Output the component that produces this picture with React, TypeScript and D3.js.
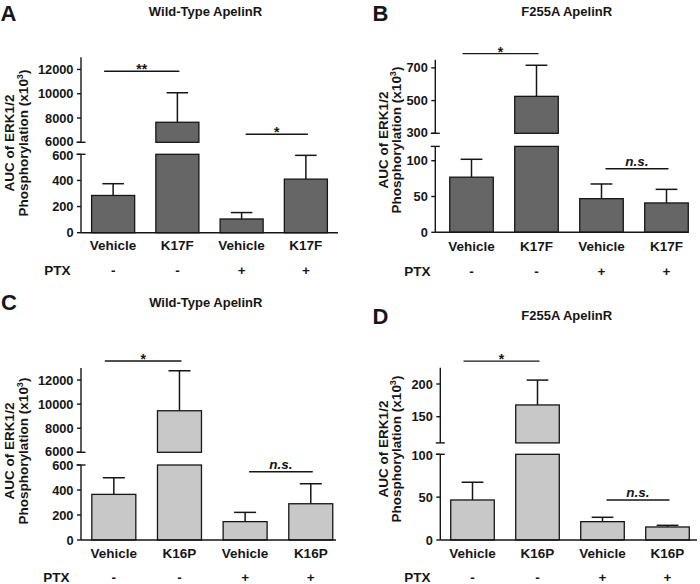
import React from 'react';
import * as d3 from 'd3';

// categories
const k17fGroups = ['Vehicle', 'K17F', 'Vehicle', 'K17F'];
const k16pGroups = ['Vehicle', 'K16P', 'Vehicle', 'K16P'];
const ptxRow = ['-', '-', '+', '+'];

// AUC means and SEM (x10^3)
const wtK17fMean = [285, 7650, 105, 410];
const wtK17fSem = [90, 2430, 49, 182];
const mutK17fMean = [77, 526, 47, 41];
const mutK17fSem = [25, 190, 20.5, 19];
const wtK16pMean = [365, 9450, 147, 290];
const wtK16pSem = [133, 3320, 74, 160];
const mutK16pMean = [46.7, 168, 21.4, 15.2];
const mutK16pSem = [20.7, 38, 5.1, 1.9];

// broken axis domains and ticks
const wtLower = [0, 600];
const wtUpper = [6000, 13000];
const wtLowerTicks = [0, 200, 400, 600];
const wtUpperTicks = [6000, 8000, 10000, 12000];
const mutK17fLower = [0, 120];
const mutK17fUpper = [300, 750];
const mutK17fLowerTicks = [0, 50, 100];
const mutK17fUpperTicks = [300, 500, 700];
const mutK16pLower = [0, 100];
const mutK16pUpper = [110, 225];
const mutK16pLowerTicks = [0, 50, 100];
const mutK16pUpperTicks = [150, 200];

interface Sig {
  a: number;
  b: number;
  level: number;
  label: string;
}

// significance brackets (level in data units)
const wtK17fSig: Sig[] = [
  { a: 0, b: 1, level: 11850, label: '**' },
  { a: 2, b: 3, level: 6660, label: '*' },
];
const mutK17fSig: Sig[] = [
  { a: 0, b: 1, level: 787, label: '*' },
  { a: 2, b: 3, level: 88.8, label: 'n.s.' },
];
const wtK16pSig: Sig[] = [
  { a: 0, b: 1, level: 13577, label: '*' },
  { a: 2, b: 3, level: 546, label: 'n.s.' },
];
const mutK16pSig: Sig[] = [
  { a: 0, b: 1, level: 235, label: '*' },
  { a: 2, b: 3, level: 46.7, label: 'n.s.' },
];

const FONT = '"Liberation Sans", Arial, Helvetica, sans-serif';
const INK = '#161616';

interface PanelProps {
  letter: string;
  title: string;
  groups: string[];
  means: number[];
  sems: number[];
  lower: number[];
  upper: number[];
  lowerTicks: number[];
  upperTicks: number[];
  sig: Sig[];
  fill: string;
  layout: {
    letterX: number;
    letterY: number;
    titleX: number;
    titleY: number;
    axisX: number;
    xEnd: number;
    band: [number, number];
    base: number;
    lowerTop: number;
    upperBottom: number;
    upperTop: number;
    yLabelX: [number, number];
    yLabelY: number;
    catY: number;
    ptxY: number;
    ptxX: number;
  };
}

const Panel = ({ letter, title, groups, means, sems, lower, upper, lowerTicks, upperTicks, sig, fill, layout: L }: PanelProps) => {
  const x = d3
    .scaleBand<number>()
    .domain(groups.map((_, i) => i))
    .range(L.band)
    .paddingInner(0.33)
    .paddingOuter(0.165);
  const yLo = d3.scaleLinear().domain(lower).range([L.base, L.lowerTop]);
  const yHi = d3.scaleLinear().domain(upper).range([L.upperBottom, L.upperTop]);
  const yOf = (v: number) => (v <= lower[1] ? yLo(v) : yHi(v));
  const bw = x.bandwidth();
  const cx = (i: number) => x(i)! + bw / 2;

  return (
    <g fontFamily={FONT} fontWeight="bold" fill={INK}>
      <text x={L.letterX} y={L.letterY} fontSize={22}>
        {letter}
      </text>
      <text x={L.titleX} y={L.titleY} fontSize={13} textAnchor="middle">
        {title}
      </text>

      {/* bars */}
      {means.map((m, i) => {
        const top = m + sems[i];
        const broken = m > lower[1];
        return (
          <g key={i}>
            <line x1={cx(i)} x2={cx(i)} y1={yOf(m)} y2={yOf(top)} stroke={INK} strokeWidth={1.5} />
            <line x1={cx(i) - bw / 4} x2={cx(i) + bw / 4} y1={yOf(top)} y2={yOf(top)} stroke={INK} strokeWidth={1.5} />
            {broken ? (
              <>
                <rect x={x(i)} y={yLo(lower[1])} width={bw} height={L.base - yLo(lower[1])} fill={fill} stroke={INK} strokeWidth={1.3} />
                <rect x={x(i)} y={yHi(m)} width={bw} height={L.upperBottom - yHi(m)} fill={fill} stroke={INK} strokeWidth={1.3} />
              </>
            ) : (
              <rect x={x(i)} y={yLo(m)} width={bw} height={L.base - yLo(m)} fill={fill} stroke={INK} strokeWidth={1.3} />
            )}
          </g>
        );
      })}

      {/* y axis, two segments */}
      <g stroke={INK} strokeWidth={1.4}>
        <line x1={L.axisX} x2={L.axisX} y1={L.base} y2={L.lowerTop} />
        <line x1={L.axisX - 4.5} x2={L.axisX + 4.5} y1={L.lowerTop} y2={L.lowerTop} />
        <line x1={L.axisX} x2={L.axisX} y1={L.upperBottom} y2={L.upperTop} />
        <line x1={L.axisX - 4.5} x2={L.axisX + 4.5} y1={L.upperBottom} y2={L.upperBottom} />
        <line x1={L.axisX} x2={L.xEnd} y1={L.base} y2={L.base} />
        {lowerTicks.map((t) => (
          <line key={'lt' + t} x1={L.axisX - 4} x2={L.axisX} y1={yLo(t)} y2={yLo(t)} />
        ))}
        {upperTicks.map((t) => (
          <line key={'ut' + t} x1={L.axisX - 4} x2={L.axisX} y1={yHi(t)} y2={yHi(t)} />
        ))}
      </g>
      {lowerTicks.map((t) => (
        <text key={'ll' + t} x={L.axisX - 7.5} y={yLo(t) + (t === lower[1] ? 0.8 : 0)} dy="0.36em" fontSize={12.8} textAnchor="end">
          {t}
        </text>
      ))}
      {upperTicks.map((t) => (
        <text key={'ul' + t} x={L.axisX - 7.5} y={yHi(t) - (t === upper[0] ? 0.8 : 0)} dy="0.36em" fontSize={12.8} textAnchor="end">
          {t}
        </text>
      ))}

      {/* y axis title */}
      <text transform={`translate(${L.yLabelX[0]},${L.yLabelY}) rotate(-90)`} fontSize={13.5} textAnchor="middle">
        AUC of ERK1/2
      </text>
      <text transform={`translate(${L.yLabelX[1]},${L.yLabelY}) rotate(-90)`} fontSize={13.5} textAnchor="middle">
        Phosphorylation (x10
        <tspan fontSize={9} dy={-5}>
          3
        </tspan>
        <tspan dy={5}>)</tspan>
      </text>

      {/* categories */}
      {groups.map((g, i) => (
        <text key={'c' + i} x={cx(i)} y={L.catY} fontSize={13.5} textAnchor="middle">
          {g}
        </text>
      ))}
      <text x={L.ptxX} y={L.ptxY} fontSize={13.5} textAnchor="middle">
        PTX
      </text>
      {ptxRow.map((p, i) => (
        <text key={'p' + i} x={cx(i)} y={L.ptxY} fontSize={13.5} textAnchor="middle">
          {p}
        </text>
      ))}

      {/* significance */}
      {sig.map((s, k) => {
        const y = yOf(s.level);
        const x0 = cx(s.a) + (k === 0 ? -9 : 4);
        const x1 = cx(s.b) + 2;
        const ns = s.label === 'n.s.';
        return (
          <g key={'s' + k}>
            <line x1={x0} x2={x1} y1={y} y2={y} stroke={INK} strokeWidth={1.4} />
            <text
              x={(x0 + x1) / 2}
              y={ns ? y - 2.5 : y + 3}
              fontSize={ns ? 13.5 : 14}
              fontStyle={ns ? 'italic' : 'normal'}
              textAnchor="middle"
            >
              {s.label}
            </text>
          </g>
        );
      })}
    </g>
  );
};

const App = () => {
  return (
    <svg width={700} height={584} style={{ position: 'absolute', left: 0, top: 0, background: '#fff' }}>
      <rect width={700} height={584} fill="#fff" />
      <Panel
        letter="A"
        title="Wild-Type ApelinR"
        groups={k17fGroups}
        means={wtK17fMean}
        sems={wtK17fSem}
        lower={wtLower}
        upper={wtUpper}
        lowerTicks={wtLowerTicks}
        upperTicks={wtUpperTicks}
        sig={wtK17fSig}
        fill="#666666"
        layout={{
          letterX: 0.5, letterY: 20.5, titleX: 205.5, titleY: 16, axisX: 81, xEnd: 338, band: [81, 338],
          base: 232.7, lowerTop: 154.3, upperBottom: 142.3, upperTop: 57.3, yLabelX: [14, 27.5], yLabelY: 143,
          catY: 249.8, ptxY: 275, ptxX: 57.5,
        }}
      />
      <Panel
        letter="B"
        title="F255A ApelinR"
        groups={k17fGroups}
        means={mutK17fMean}
        sems={mutK17fSem}
        lower={mutK17fLower}
        upper={mutK17fUpper}
        lowerTicks={mutK17fLowerTicks}
        upperTicks={mutK17fUpperTicks}
        sig={mutK17fSig}
        fill="#666666"
        layout={{
          letterX: 372.5, letterY: 20.5, titleX: 566.7, titleY: 16, axisX: 435.3, xEnd: 688, band: [439, 699],
          base: 232.3, lowerTop: 146.4, upperBottom: 133.3, upperTop: 59.7, yLabelX: [388, 401], yLabelY: 140,
          catY: 250.5, ptxY: 275.7, ptxX: 417.5,
        }}
      />
      <Panel
        letter="C"
        title="Wild-Type ApelinR"
        groups={k16pGroups}
        means={wtK16pMean}
        sems={wtK16pSem}
        lower={wtLower}
        upper={wtUpper}
        lowerTicks={wtLowerTicks}
        upperTicks={wtUpperTicks}
        sig={wtK16pSig}
        fill="#c8c8c8"
        layout={{
          letterX: 1, letterY: 309.5, titleX: 205.8, titleY: 306.7, axisX: 81, xEnd: 336, band: [81, 343.6],
          base: 540, lowerTop: 465, upperBottom: 452.3, upperTop: 368, yLabelX: [14, 27.5], yLabelY: 451,
          catY: 558.3, ptxY: 581.5, ptxX: 56.5,
        }}
      />
      <Panel
        letter="D"
        title="F255A ApelinR"
        groups={k16pGroups}
        means={mutK16pMean}
        sems={mutK16pSem}
        lower={mutK16pLower}
        upper={mutK16pUpper}
        lowerTicks={mutK16pLowerTicks}
        upperTicks={mutK16pUpperTicks}
        sig={mutK16pSig}
        fill="#c8c8c8"
        layout={{
          letterX: 372.5, letterY: 323.5, titleX: 566.7, titleY: 320, axisX: 440.3, xEnd: 697, band: [440, 700],
          base: 540, lowerTop: 454.3, upperBottom: 442.9, upperTop: 367.65, yLabelX: [388, 401], yLabelY: 449,
          catY: 558.3, ptxY: 581.5, ptxX: 417.5,
        }}
      />
    </svg>
  );
};

export default App;
